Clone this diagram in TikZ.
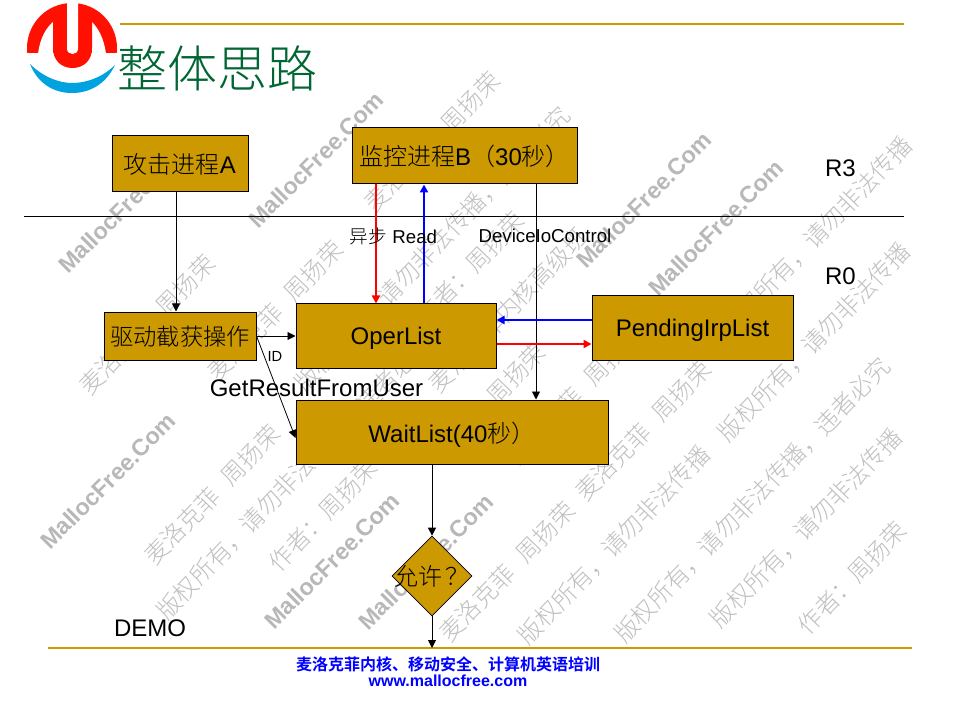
\documentclass[tikz,border=0pt]{standalone}
\usepackage{fontspec}
\usetikzlibrary{arrows.meta,calc,shapes.geometric}
\setmainfont{Liberation Sans}
\newfontfamily\cjk{Noto Sans CJK SC Light}
\definecolor{gold}{HTML}{CC9900}
\definecolor{wmgray}{HTML}{C0C0C0}
\definecolor{wmgrayb}{HTML}{B8B8B8}
\definecolor{titlegreen}{HTML}{006633}
\definecolor{logored}{HTML}{FF1000}
\definecolor{logoblue}{HTML}{00A3E0}
\newcommand\fs[1]{\fontsize{#1pt}{#1pt}\selectfont}
\newcommand\wmA{麦洛克菲\hspace{.6em}周扬荣}
\newcommand\wmB{版权所有，请勿非法传播，违者必究}
\newcommand\wmC{版权所有，请勿非法传播}
\newcommand\wmD{作者：周扬荣}
\tikzset{
  x=0.75pt,y=-0.75pt,
  box/.style={draw=black,fill=gold,line width=0.75pt,inner sep=0pt,text=black,font=\fs{18},align=center},
  lab/.style={inner sep=0pt,text=black,font=\fs{18}},
  small/.style={inner sep=0pt,text=black,font=\fs{14}},
  wml/.style={inner sep=0pt,text=wmgrayb,font=\bfseries\fs{17.5},rotate=45},
  wmc/.style={inner sep=0pt,text=wmgray,font=\cjk\fs{18},rotate=46},
  arr/.style={line width=0.7pt,-{Triangle[length=6pt,width=6pt]}},
  redarr/.style={draw=red,line width=1.5pt,-{Triangle[length=6pt,width=6pt]}},
  bluearr/.style={draw=blue,line width=1.5pt,-{Triangle[length=6pt,width=6pt]}},
  goldline/.style={draw=gold,line width=1.5pt},
  rule/.style={draw=black,line width=0.7pt}
}
\begin{document}
\begin{tikzpicture}
\useasboundingbox (0,0) rectangle (960,720);
\fill[white] (0,0) rectangle (960,720);
% watermarks
\node[wml] (m1) at (126,205) {MallocFree.Com};
\node[wml] (m2) at (316,160) {MallocFree.Com};
\node[wml] (m3) at (644,200) {MallocFree.Com};
\node[wml] (m4) at (716,228) {MallocFree.Com};
\node[wml] (m5) at (108,481) {MallocFree.Com};
\node[wml] (m6) at (332,561) {MallocFree.Com};
\node[wml] (m7) at (426,562) {MallocFree.Com};
\node[wmc] (c1) at (147,325) {\wmA};
\node[wmc] (c2) at (275,311) {\wmA};
\node[wmc] (c3) at (432,142) {\wmA};
\node[wmc] (c4) at (212,495) {\wmA};
\node[wmc] (c5) at (643,431) {\wmA};
\node[wmc] (c6) at (507,572) {\wmA};
\node[wmc] (c7) at (575,395) {\wmA};
\node[wmc] (c8) at (516,374) {周扬荣};
\node[wmc] (d1) at (432,249) {\wmB};
\node[wmc] (d2) at (294,477) {\wmB};
\node[wmc] (d3) at (752,500) {\wmB};
\node[wmc] (e1) at (816,236) {\wmC};
\node[wmc] (e2) at (814,342) {\wmC};
\node[wmc] (e3) at (614,545) {\wmC};
\node[wmc] (e4) at (806,528) {\wmC};
\node[wmc] (f1) at (470,268) {\wmD};
\node[wmc] (f2) at (323,515) {\wmD};
\node[wmc] (f3) at (852,578) {\wmD};
\node[wmc] (g1) at (508,310) {麦洛克菲内核高级班};
% logo
\begin{scope}
\clip (20,0) rectangle (125,53);
\fill[logored] (72,48) circle[radius=45];
\end{scope}
\fill[white] (38,54) .. controls (40,38) and (46,28) .. (53,22) -- (53,54) -- cycle;
\fill[white] (106,54) .. controls (104,38) and (98,28) .. (92,22) -- (92,54) -- cycle;
\fill[logored] (53,20) -- (92,20) -- (92,48) .. controls (92,60) and (84,68) .. (72.5,68) .. controls (61,68) and (53,60) .. (53,48) -- cycle;
\fill[white] (67,0) -- (78,0) -- (78,48.5) .. controls (78,52) and (75.5,54) .. (72.5,54) .. controls (69.5,54) and (67,52) .. (67,48.5) -- cycle;
\fill[logoblue] (30,64) .. controls (42,76) and (58,83) .. (72,83) .. controls (88,83) and (104,76) .. (115,65) .. controls (106,84) and (90,93) .. (72,93) .. controls (54,93) and (38,84) .. (30,64) -- cycle;
% rules
\coordinate (tl) at (120,24);
\coordinate (tr) at (904,24);
\coordinate (bl) at (48,648);
\coordinate (br) at (912,648);
\coordinate (hl) at (24,216);
\coordinate (hr) at (904,216);
\draw[goldline] (tl) -- (tr);
\draw[goldline] (bl) -- (br);
\draw[rule] (hl) -- (hr);
% boxes
\node[box,minimum width=102pt,minimum height=42pt] (a) at (180,164) {{\cjk 攻击进程}A};
\node[box,minimum width=168.75pt,minimum height=42pt] (b) at (464.5,156) {{\cjk 监控进程}B{\cjk （}30{\cjk 秒）}};
\node[box,minimum width=114pt,minimum height=36pt,font=\cjk\fs{17.5},text depth=0pt] (drv) at (180,336) {驱动截获操作};
\node[box,minimum width=150pt,minimum height=48pt,text depth=0pt] (oper) at (396,336) {OperList};
\node[box,minimum width=150.75pt,minimum height=48pt,text depth=0pt] (pend) at (692.5,328) {PendingIrpList};
\node[box,minimum width=234pt,minimum height=48pt,text depth=0pt] (wait) at (452,432) {WaitList(40{\cjk 秒）}};
\node[box,diamond,aspect=1,minimum width=60pt,minimum height=60pt,line width=0.5pt,font=\cjk\fs{18}] (dia) at (432,576) {\makebox[0pt]{\smash{\raisebox{-0.4em}{允许\kern.1em？}}}};
\coordinate (out) at (432,648);
% connectors
\draw[arr] ($(a.south)+(-4,0)$) -- ($(drv.north)+(-4,0)$);
\draw[arr] (drv.east) -- (oper.west);
\draw[arr,line width=0.6pt] (drv.east) -- ($(wait.west)+(0,6)$);
\draw[redarr] ($(b.south)+(-88.5,0)$) -- ($(oper.north)+(-20,0)$);
\draw[bluearr] ($(oper.north)+(28,0)$) -- ($(b.south)+(-40.5,0)$);
\draw[arr] ($(b.south)+(71.5,0)$) -- ($(wait.north)+(84,0)$);
\draw[bluearr] ($(pend.west)+(0,-8)$) -- ($(oper.east)+(0,-16)$);
\draw[redarr] ($(oper.east)+(0,8)$) -- ($(pend.west)+(0,16)$);
\draw[arr] ($(wait.south)+(-20,0)$) -- (dia.north);
\draw[arr] (dia.south) -- (out);
% labels
\node[small] (read) at (393.5,236) {{\cjk 异步} Read};
\node[small] (dev) at (545,236) {DeviceIoControl};
\node[inner sep=0pt,font=\fs{11}] (id) at (275,356) {ID};
\node[lab] (get) at (316.5,388) {GetResultFromUser};
\node[lab] (r3) at (840.5,168) {R3};
\node[lab] (r0) at (840.5,276) {R0};
\node[lab] (demo) at (150,628) {DEMO};
\node[inner sep=0pt,text=titlegreen,font=\cjk\fs{37.5}] (title) at (217,68) {整体思路};
\node[inner sep=0pt,text=blue,font=\cjk\bfseries\fs{12}] (f1t) at (448,664) {麦洛克菲内核、移动安全、计算机英语培训};
\node[inner sep=0pt,text=blue,font=\bfseries\fs{12}] (f2t) at (448,681) {www.mallocfree.com};
\end{tikzpicture}
\end{document}
